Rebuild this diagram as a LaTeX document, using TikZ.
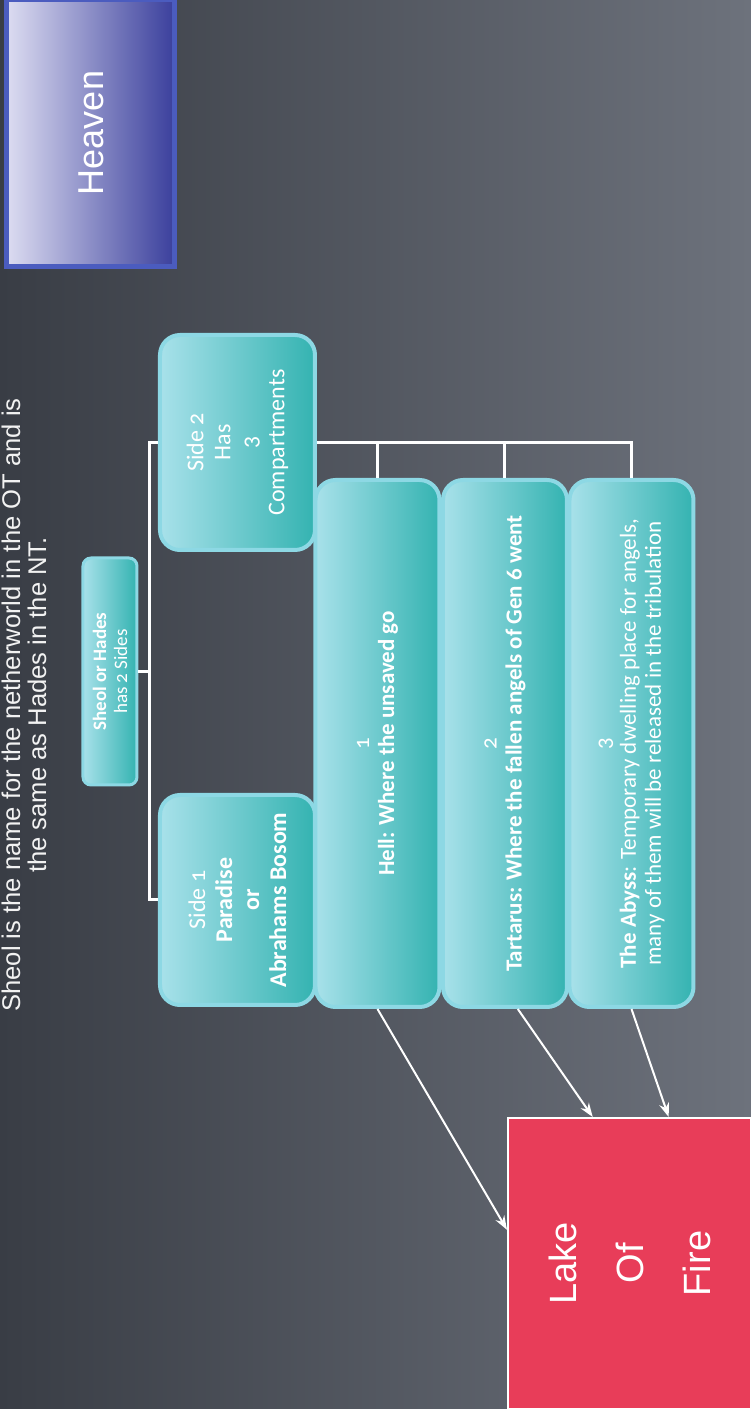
\documentclass[tikz,border=0pt]{standalone}
\usepackage{fontspec}
\setmainfont{Carlito}[Numbers=OldStyle]
\newfontfamily\arialfont{Liberation Sans}
\usetikzlibrary{calc,arrows.meta}

\definecolor{bgdark}{HTML}{393D45}
\definecolor{bglight}{HTML}{6D727C}
\definecolor{tealtop}{HTML}{A8E1EA}
\definecolor{tealbot}{HTML}{34B3B1}
\definecolor{tealedge}{HTML}{8DD8E4}
\definecolor{heaventop}{HTML}{DCDCF1}
\definecolor{heavenbot}{HTML}{3A3F9C}
\definecolor{heavenedge}{HTML}{4B5CBF}
\definecolor{firered}{HTML}{E83D59}

\tikzset{
  part/.style={draw=tealedge, line width=2pt, rounded corners=10pt,
    left color=tealtop, right color=tealbot, text=white, align=center, inner sep=0pt},
  link/.style={draw=white, line width=1.5pt},
  arr/.style={draw=white, line width=1pt, -{Stealth[length=7pt,width=5pt]}},
}

\begin{document}
\begin{tikzpicture}[x=0.5pt,y=0.5pt]
\shade[left color=bgdark, right color=bglight] (-751,0) rectangle (0,1409);
\useasboundingbox (-751,0) rectangle (0,1409);
\begin{scope}[rotate=90, transform shape]
  % the slide, turned on its side
  \node[text=white!90!gray, align=center, font=\arialfont\fontsize{12.8}{13}\selectfont] (title) at (704,727)
    {Sheol is the name for the netherworld in the OT and is\\the same as Hades in the NT.};

  \node[draw=heavenedge, line width=2.5pt, left color=heaventop, right color=heavenbot,
    minimum width=133.5pt, minimum height=84pt, text=white,
    font=\arialfont\fontsize{18}{20}\selectfont] (heaven) at (1276,660) {Heaven};

  \node[part, rounded corners=4pt, line width=1.5pt, minimum width=113.5pt, minimum height=27pt,
    font=\fontsize{9.5}{10.5}\selectfont] (sheol) at (737.5,641) {\textbf{Sheol or Hades}\\has 2 Sides};

  \node[part, minimum width=105pt, minimum height=77.5pt, font=\fontsize{12}{13.5}\selectfont]
    (side1) at (509,513.5) {Side 1\\\textbf{Paradise}\\\textbf{or}\\\textbf{Abrahams Bosom}};
  \node[part, minimum width=107.5pt, minimum height=77.5pt, font=\fontsize{12}{13.5}\selectfont]
    (side2) at (966.5,513.5) {Side 2\\Has\\3\\Compartments};

  \node[part, minimum width=263.5pt, minimum height=62pt, font=\fontsize{11.5}{12.5}\selectfont]
    (hell) at (665.5,373.5) {1\\\textbf{Hell: Where the unsaved go}};
  \node[part, minimum width=263.5pt, minimum height=62pt, font=\fontsize{11.5}{12.5}\selectfont]
    (tartarus) at (665.5,246) {2\\\textbf{Tartarus: Where the fallen angels of Gen 6 went}};
  \node[part, minimum width=263.5pt, minimum height=62pt, font=\fontsize{11.5}{12.5}\selectfont]
    (abyss) at (665.5,119.5) {3\\\textbf{The Abyss}: Temporary dwelling place for angels,\\many of them will be released in the tribulation};

  \node[draw=white, line width=1pt, fill=firered, minimum width=145.5pt, minimum height=121.5pt,
    text=white, align=center, font=\arialfont\fontsize{19}{33.5}\selectfont] (lake) at (145.5,121.5) {Lake\\Of\\Fire};

  \coordinate (bar) at (737.5,601);
  \draw[link] (sheol.south) -- (bar);
  \draw[link] (side1.north) |- (bar) -| (side2.north);
  \draw[link] (side2.south) -- (side2.south |- abyss.east) -- (abyss.east);
  \draw[link] (side2.south |- hell.east) -- (hell.east);
  \draw[link] (side2.south |- tartarus.east) -- (tartarus.east);

  \draw[arr] (hell.west) -- ($(lake.north west)!0.615!(lake.north east)$);
  \draw[arr] ($(tartarus.north west)!0.6!(tartarus.south west)$) -- ($(lake.north east)!0.35!(lake.south east)$);
  \draw[arr] (abyss.west) -- ($(lake.north east)!0.66!(lake.south east)$);
\end{scope}
\end{tikzpicture}
\end{document}
